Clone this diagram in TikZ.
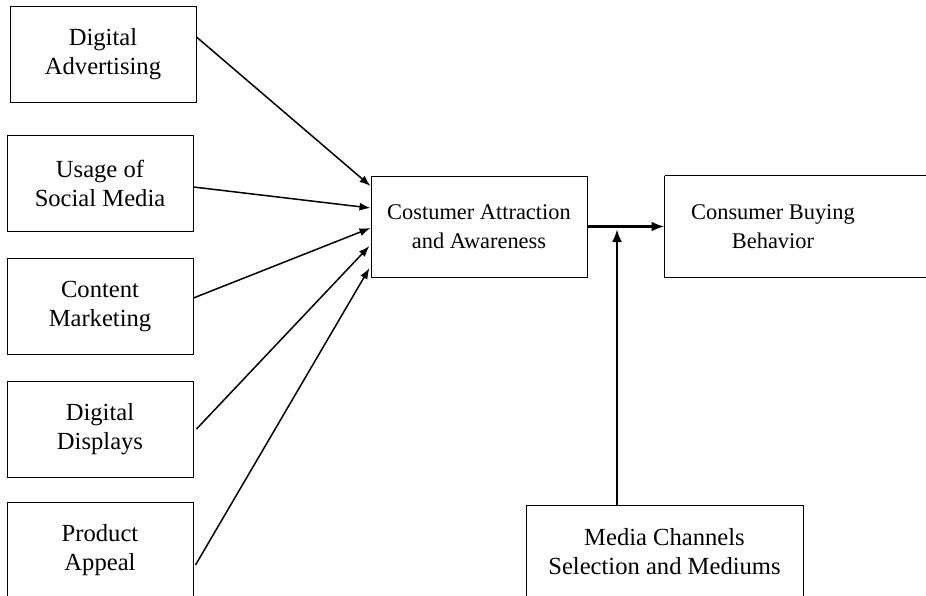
\documentclass[tikz,border=0pt]{standalone}
\usepackage{fontspec}
\setmainfont{Liberation Serif}
\usetikzlibrary{arrows.meta}
\tikzset{
    box/.style={draw, line width=0.5pt, align=center, inner sep=0pt},
    factor/.style={box, minimum width=93pt, minimum height=48pt,
        font=\fontsize{12.3}{14.5}\selectfont,
        execute at begin node={\rule{0pt}{14pt}}},
    stage/.style={box, minimum width=108pt, minimum height=50.5pt,
        font=\fontsize{11.2}{14.5}\selectfont},
    link/.style={line width=0.75pt, -{Latex[length=5.5pt,width=4pt]}},
    mainlink/.style={line width=1.3pt, -{Latex[length=6.5pt,width=5pt]}}
}

\begin{document}
\begin{tikzpicture}[x=0.5pt,y=-0.5pt]
	\useasboundingbox (0,0) rectangle (926,595);
	\clip (0,0) rectangle (926,595);
	% influencing factors
	\node[factor] (adv) at (103,54) {Digital\\Advertising};
	\node[factor] (social) at (100,183.5) {Usage of\\Social Media};
	\node[factor] (content) at (100,306.5) {Content\\Marketing};
	\node[factor] (display) at (100,429) {Digital\\Displays};
	\node[factor] (appeal) at (100,550) {Product\\Appeal};
	% middle and outcome
	\node[stage] (attract) at (479,226.5) {Costumer Attraction\\and Awareness};
	\node[stage, draw=none] (buying) at (773,226.5) {Consumer Buying\\Behavior};
	\draw[line width=0.5pt] (buying.north west) -- (buying.south west) -- ++(200pt,0)
		(buying.north west) -- ++(200pt,0);
	\node[factor, minimum width=138.5pt, minimum height=47pt] (media) at (664.5,552) {Media Channels\\Selection and Mediums};
	\coordinate (junction) at (617,229);
	% connections
	\draw[link] ([yshift=8.5pt]adv.east) -- ([yshift=20.25pt]attract.west);
	\draw[link] ([yshift=-1.75pt]social.east) -- ([yshift=9.25pt]attract.west);
	\draw[link] ([yshift=4.25pt]content.east) -- ([yshift=-0.75pt]attract.west);
	\draw[link] ([xshift=1.5pt]display.east) -- ([xshift=-0.5pt,yshift=-9.75pt]attract.west);
	\draw[link] ([xshift=1pt,yshift=-7.5pt]appeal.east) -- ([xshift=-0.5pt,yshift=-20.75pt]attract.west);
	\draw[mainlink] (attract.east) -- (buying.west);
	\draw[mainlink] (media.north -| junction) -- (junction);
\end{tikzpicture}
\end{document}
